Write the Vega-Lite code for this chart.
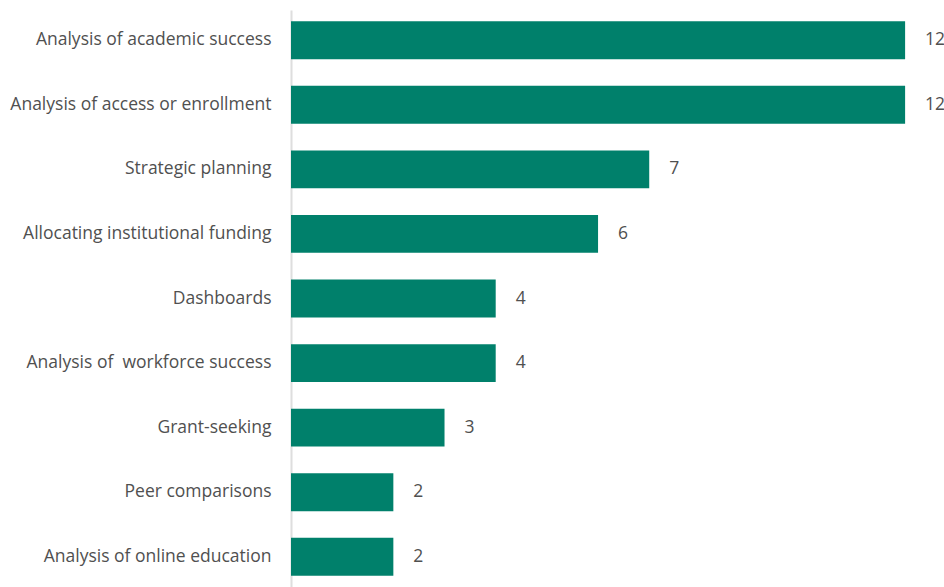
{
  "$schema": "https://vega.github.io/schema/vega-lite/v6.json",
  "width": 653,
  "height": 577,
  "autosize": {"type": "none"},
  "padding": {"left": 291, "top": 10, "right": 0, "bottom": 0},
  "background": "white",
  "config": {"view": {"stroke": null}, "font": "Open Sans"},
  "data": {
    "values": [
      {"category": "Analysis of academic success", "count": 12},
      {"category": "Analysis of access or enrollment", "count": 12},
      {"category": "Strategic planning", "count": 7},
      {"category": "Allocating institutional funding", "count": 6},
      {"category": "Dashboards", "count": 4},
      {"category": "Analysis of\u00a0 workforce success", "count": 4},
      {"category": "Grant-seeking", "count": 3},
      {"category": "Peer comparisons", "count": 2},
      {"category": "Analysis of online education", "count": 2}
    ]
  },
  "encoding": {
    "y": {
      "field": "category",
      "type": "nominal",
      "sort": null,
      "scale": {"paddingInner": 0.414, "paddingOuter": 0.175},
      "axis": {
        "title": null,
        "ticks": false,
        "labelPadding": 20,
        "labelFontSize": 17.5,
        "labelColor": "#505050",
        "labelFont": "Open Sans",
        "labelLimit": 300,
        "domainColor": "#dedede",
        "domainWidth": 2,
        "grid": false
      }
    },
    "x": {
      "field": "count",
      "type": "quantitative",
      "scale": {"domain": [0, 12.76], "nice": false, "zero": true},
      "axis": null
    }
  },
  "layer": [
    {"mark": {"type": "bar", "color": "#00806B"}},
    {
      "mark": {"type": "text", "align": "left", "baseline": "middle", "dx": 20, "fontSize": 17.5, "color": "#505050", "font": "Open Sans"},
      "encoding": {"text": {"field": "count", "type": "quantitative"}}
    }
  ]
}
